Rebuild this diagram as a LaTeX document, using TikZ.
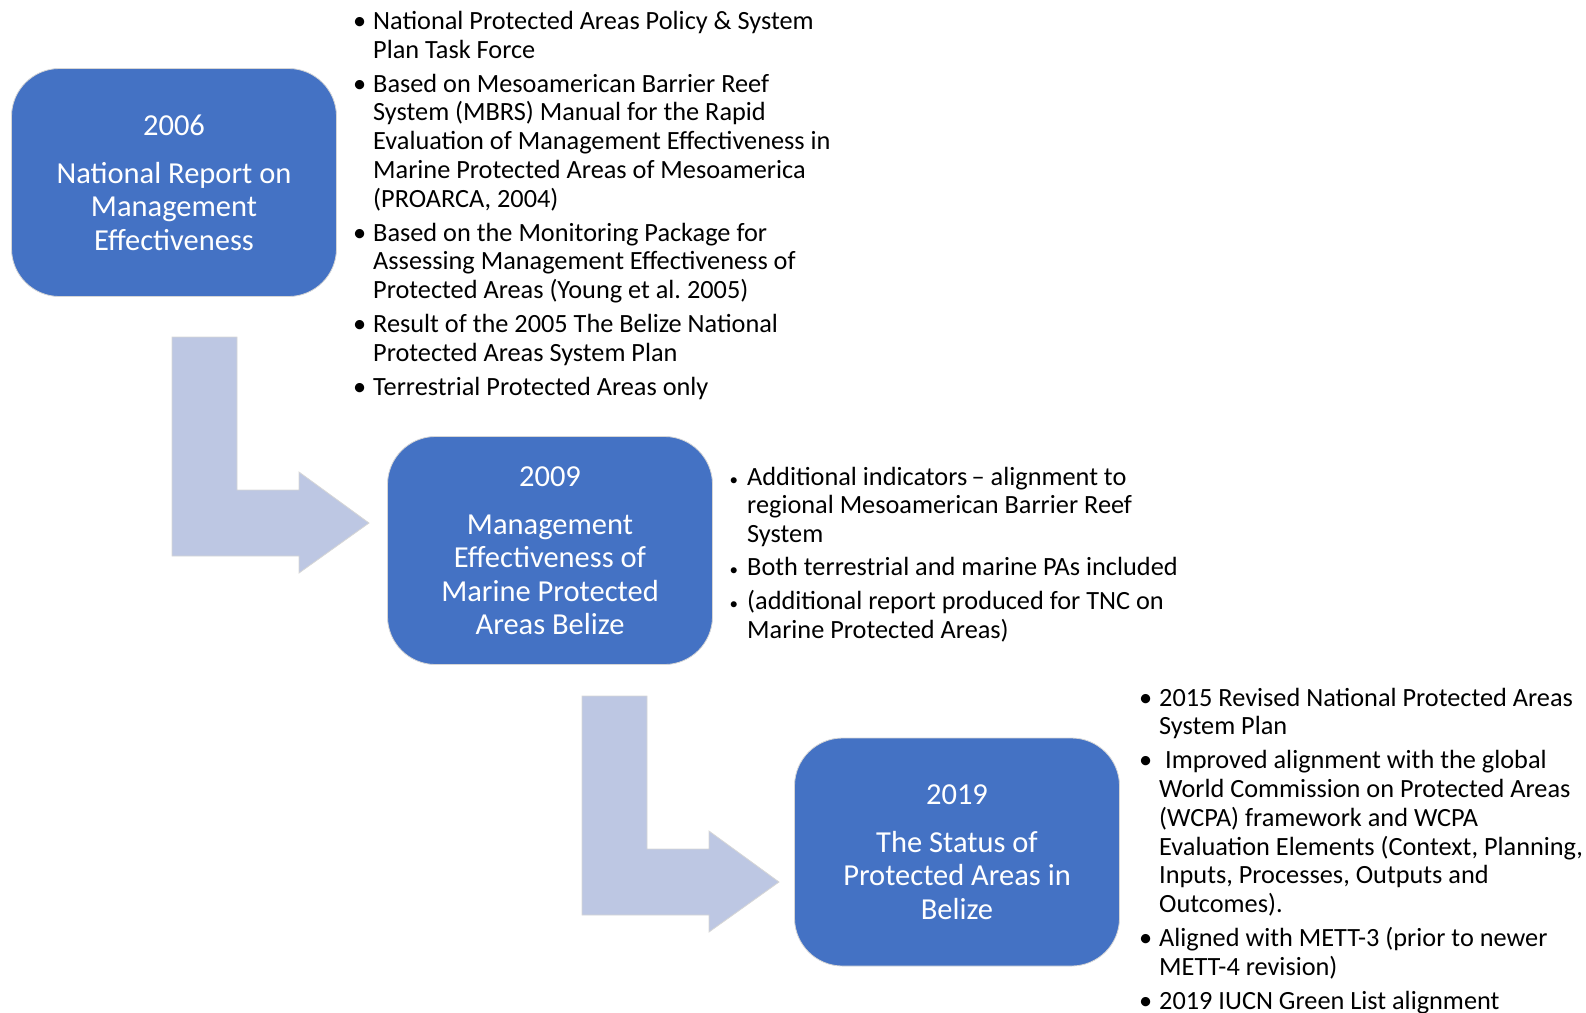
\documentclass[tikz,border=0pt]{standalone}
\usepackage{fontspec}
\setmainfont{Carlito}
\frenchspacing
\usetikzlibrary{calc}
\definecolor{cBox}{HTML}{4472C4}
\definecolor{cArr}{HTML}{BDC7E3}
\definecolor{cEdge}{HTML}{D6D6D6}
\newcommand{\bul}{\llap{\textbullet\hspace{7pt}}}
\newcommand{\sbul}{\llap{{\fontsize{17}{17}\selectfont\textbullet}\hspace{9pt}}}
\newcommand{\bentarrow}[1]{\draw[flowarrow] (#1) -- ++(65,0) -- ++(0,153) -- ++(62,0) -- ++(0,-18)
  -- ++(70,51) -- ++(-70,50) -- ++(0,-17) -- ++(-127,0) -- cycle;}
\tikzset{
  stage/.style={rectangle, rounded corners=48pt, fill=cBox, draw=cEdge, line width=0.8pt,
                text=white, align=center, minimum width=325pt, minimum height=228pt,
                inner sep=0pt, font=\fontsize{30.5}{33.5}\selectfont},
  notes/.style={anchor=base west, align=left, inner sep=0pt, text=black,
                font=\fontsize{26.3}{28.8}\selectfont},
  flowarrow/.style={fill=cArr, draw=cEdge, line width=0.8pt, line join=miter},
}

\begin{document}
\begin{tikzpicture}[x=1pt, y=-1pt]
  \useasboundingbox (0,0) rectangle (1586,1012);

  % ---- the three reports
  \node[stage] (s2006) at (174,182.5) {2006\\[14.5pt] National Report on\\ Management\\ Effectiveness};
  \node[stage] (s2009) at (550,550.5) {2009\\[14.5pt] Management\\ Effectiveness of\\ Marine Protected\\ Areas Belize};
  \node[stage] (s2019) at (957,852)   {2019\\[14.5pt] The Status of\\ Protected Areas in\\ Belize};

  % ---- bent arrows between the reports
  \coordinate (a1) at (172,337);
  \coordinate (a2) at (582,696);
  \bentarrow{a1}
  \bentarrow{a2}

  % ---- notes beside each report (placed by the baseline of their last line)
  \node[notes] (n2006) at (373,395) {\bul National Protected Areas Policy \& System\\ Plan Task Force\\[5pt]
    \bul Based on Mesoamerican Barrier Reef\\ System (MBRS) Manual for the Rapid\\
    Evaluation of Management Effectiveness in\\ Marine Protected Areas of Mesoamerica\\ (PROARCA, 2004)\\[5pt]
    \bul Based on the Monitoring Package for\\ Assessing Management Effectiveness of\\
    Protected Areas (Young et al. 2005)\\[5pt]
    \bul Result of the 2005 The Belize National\\ Protected Areas System Plan\\[5pt]
    \bul Terrestrial Protected Areas only};
  \node[notes] (n2009) at (747,638) {\sbul Additional indicators\,– alignment to\\ regional Mesoamerican Barrier Reef\\ System\\[4.5pt]
    \sbul Both terrestrial and marine PAs included\\[4.5pt]
    \sbul (additional report produced for TNC on\\ Marine Protected Areas)};
  \node[notes] (n2019) at (1159,1009) {\bul 2015 Revised National Protected Areas\\ System Plan\\[5pt]
    \bul\hspace{6pt}Improved alignment with the global\\ World Commission on Protected Areas\\
    (WCPA) framework and WCPA\\ Evaluation Elements (Context, Planning,\\ Inputs, Processes, Outputs and\\ Outcomes).\\[5pt]
    \bul Aligned with METT-3 (prior to newer\\ METT-4 revision)\\[5pt]
    \bul 2019 IUCN Green List alignment};
\end{tikzpicture}
\end{document}
